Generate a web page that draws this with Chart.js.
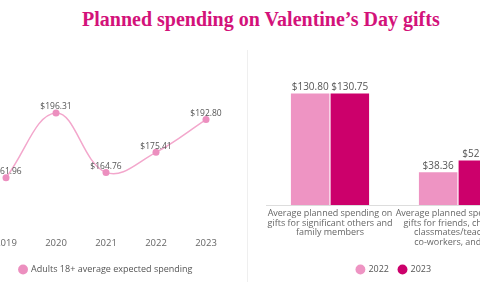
<!DOCTYPE html>
<html lang="en">
<head>
<meta charset="UTF-8">
<title>Planned spending on Valentine’s Day gifts</title>
<script src="https://cdn.jsdelivr.net/npm/chart.js"></script>
<style>
    html, body {
        margin: 0;
        padding: 0;
        background: #fff;
        width: 480px;
        height: 300px;
        overflow: hidden;
        position: relative;
    }
    #title {
        position: absolute;
        left: 82px;
        top: 8px;
        margin: 0;
        font-family: "Liberation Serif", serif;
        font-weight: bold;
        font-size: 20px;
        color: #d3127a;
        white-space: nowrap;
    }
    .box {
        position: absolute;
        top: 50px;
    }
    #divider {
        position: absolute;
        left: 247px;
        top: 50px;
        width: 1px;
        height: 232px;
        background: #efefef;
    }
</style>
</head>
<body>

<h1 id="title">Planned spending on Valentine’s Day gifts</h1>
<div class="box" style="left:-35px"><canvas id="lineChart" width="282" height="240"></canvas></div>
<div id="divider"></div>
<div class="box" style="left:248px"><canvas id="barChart" width="292" height="240"></canvas></div>

<script>
// data
var years = ['2019', '2020', '2021', '2022', '2023'];
var adultSpending = [161.96, 196.31, 164.76, 175.41, 192.80];

var giftCategories = [
    ['Average planned spending on', 'gifts for significant others and', 'family members'],
    ['Average planned spending on', "gifts for friends, children's", 'classmates/teachers,', 'co-workers, and pets']
];
var spending2022 = [130.80, 38.36];
var spending2023 = [130.75, 52.22];

var fontFamily = '"Open Sans", sans-serif';

// draws "$xx.xx" above every point / bar
var valueLabels = {
    id: 'valueLabels',
    afterDatasetsDraw: function (chart, args, opts) {
        var ctx = chart.ctx;
        ctx.save();
        ctx.font = opts.size + 'px ' + fontFamily;
        ctx.fillStyle = '#555';
        ctx.textAlign = 'center';
        ctx.textBaseline = 'middle';
        chart.data.datasets.forEach(function (ds, i) {
            chart.getDatasetMeta(i).data.forEach(function (el, j) {
                ctx.fillText('$' + ds.data[j].toFixed(2), el.x, el.y - opts.offset);
            });
        });
        ctx.restore();
    }
};

var legendOpts = {
    position: 'bottom',
    labels: {
        usePointStyle: true,
        pointStyle: 'circle',
        boxWidth: 7,
        boxHeight: 7,
        padding: 10,
        color: '#555',
        font: { family: fontFamily, size: 9 }
    }
};

new Chart(document.getElementById('lineChart').getContext('2d'), {
    type: 'line',
    data: {
        labels: years,
        datasets: [{
            label: 'Adults 18+ average expected spending',
            data: adultSpending,
            borderColor: '#f3a7cc',
            backgroundColor: '#ec8fbf',
            borderWidth: 1.5,
            tension: 0.4,
            pointRadius: 3.5,
            pointBorderWidth: 0,
            pointBackgroundColor: '#ec8fbf'
        }]
    },
    options: {
        responsive: false,
        animation: false,
        layout: { padding: { left: 16, right: 16, top: 18.4, bottom: 6 } },
        scales: {
            x: {
                offset: true,
                grid: { display: false, drawTicks: false },
                border: { display: false },
                ticks: { color: '#666', padding: 20, font: { family: fontFamily, size: 9.5, lineHeight: 1 } },
                afterFit: function (scale) { scale.height = 36; }
            },
            y: { display: false, min: 140, max: 220 }
        },
        plugins: {
            legend: legendOpts,
            tooltip: { enabled: false },
            valueLabels: { size: 8.5, offset: 6 }
        }
    },
    plugins: [valueLabels]
});

new Chart(document.getElementById('barChart').getContext('2d'), {
    type: 'bar',
    data: {
        labels: giftCategories,
        datasets: [{
            label: '2022',
            data: spending2022,
            backgroundColor: '#ee94c3',
            categoryPercentage: 0.62,
            barPercentage: 0.97
        }, {
            label: '2023',
            data: spending2023,
            backgroundColor: '#cc006b',
            categoryPercentage: 0.62,
            barPercentage: 0.97
        }]
    },
    options: {
        responsive: false,
        animation: false,
        layout: { padding: { left: 18, right: 18, top: 18.6, bottom: 6 } },
        scales: {
            x: {
                grid: { display: false, drawTicks: false },
                border: { display: true, color: '#dddddd', width: 1 },
                ticks: { color: '#666', padding: 4, maxRotation: 0, font: { family: fontFamily, size: 9, lineHeight: 1.05 } },
                afterFit: function (scale) { scale.height = 50; }
            },
            y: { display: false, min: 0, max: 160 }
        },
        plugins: {
            legend: legendOpts,
            tooltip: { enabled: false },
            valueLabels: { size: 10, offset: 6 }
        }
    },
    plugins: [valueLabels]
});
</script>
</body>
</html>
